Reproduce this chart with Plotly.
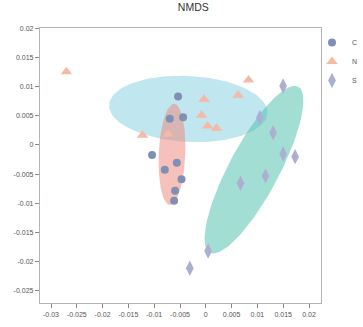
import numpy as np
import plotly.graph_objects as go

# ---- data ----
c_x = [-0.00537, -0.00698, -0.00440, -0.01041, -0.00562, -0.00795, -0.00471, -0.00595, -0.00614]
c_y = [0.00830, 0.00452, 0.00476, -0.00172, -0.00304, -0.00424, -0.00589, -0.00785, -0.00957]

n_x = [-0.02700, -0.01227, -0.00731, 0.00828, 0.00626, -0.00033, -0.00083, 0.00033, 0.00207]
n_y = [0.01259, 0.00167, 0.00184, 0.01116, 0.00854, 0.00785, 0.00510, 0.00326, 0.00287]

s_x = [0.01498, 0.01047, 0.01304, 0.01498, 0.01731, 0.01157, 0.00672, 0.00045, -0.00310]
s_y = [0.01013, 0.00469, 0.00211, -0.00155, -0.00201, -0.00532, -0.00658, -0.01821, -0.02118]

# confidence ellipses: centre and two conjugate half-axis vectors (data units)
ell_N = dict(c=(-0.00339, 0.00618), u=(0.015347, -0.000713), v=(-0.000335, -0.00566))
ell_C = dict(c=(-0.00655, -0.00163), u=(0.000411, 0.008684), v=(0.002575, -0.0000957))
ell_S = dict(c=(0.009341, -0.004243), u=(0.008566, 0.014256), v=(0.004283, -0.002018))

x_ticks = [-0.03, -0.025, -0.02, -0.015, -0.01, -0.005, 0, 0.005, 0.01, 0.015, 0.02]
y_ticks = [0.02, 0.015, 0.01, 0.005, 0, -0.005, -0.01, -0.015, -0.02, -0.025]


def ellipse(e, n=120):
    t = np.linspace(0, 2 * np.pi, n)
    x = e["c"][0] + e["u"][0] * np.cos(t) + e["v"][0] * np.sin(t)
    y = e["c"][1] + e["u"][1] * np.cos(t) + e["v"][1] * np.sin(t)
    return x, y


fig = go.Figure()
for e, col in [(ell_N, "rgba(130,205,225,0.5)"),
               (ell_C, "rgba(236,132,118,0.5)"),
               (ell_S, "rgba(72,190,170,0.5)")]:
    ex, ey = ellipse(e)
    fig.add_trace(go.Scatter(x=ex, y=ey, mode="lines", fill="toself",
                             fillcolor=col, line=dict(width=0),
                             showlegend=False, hoverinfo="skip"))

fig.add_trace(go.Scatter(x=c_x, y=c_y, mode="markers", name="C",
                         marker=dict(symbol="circle", size=8, color="rgb(128,144,180)")))
fig.add_trace(go.Scatter(x=n_x, y=n_y, mode="markers", name="N",
                         marker=dict(symbol="triangle-up", size=10, color="rgb(245,185,165)")))
fig.add_trace(go.Scatter(x=s_x, y=s_y, mode="markers", name="S",
                         marker=dict(symbol="diamond-tall", size=11, color="rgb(172,176,208)")))

axis_common = dict(showgrid=False, zeroline=False, showline=True, mirror=True,
                   linecolor="#b4b4b4", linewidth=1.3, ticks="outside", ticklen=4,
                   tickcolor="#888", tickwidth=1,
                   tickfont=dict(family="Arial", size=7, color="#555"))

fig.update_layout(
    width=363, height=327,
    margin=dict(l=40, r=42, t=28, b=24, autoexpand=False),
    paper_bgcolor="white", plot_bgcolor="white",
    title=dict(text="NMDS", x=198 / 363, xanchor="center", xref="paper",
               y=1 - 7 / 327, yanchor="middle", yref="container",
               font=dict(family="Arial", size=10.5, color="#333")),
    xaxis=dict(range=[-0.032132, 0.022325], tickvals=x_ticks,
               ticktext=[f"{v:g}" for v in x_ticks], **axis_common),
    yaxis=dict(range=[-0.027147, 0.020086], tickvals=y_ticks,
               ticktext=[f"{v:g}" for v in y_ticks], **axis_common),
    legend=dict(x=0.968, y=1.0, xanchor="left", yanchor="top",
                font=dict(family="Arial", size=7, color="#555"),
                itemwidth=30, bgcolor="rgba(0,0,0,0)"),
)
fig.update_layout(font=dict(family="Arial"))
fig.write_html("out.html")
